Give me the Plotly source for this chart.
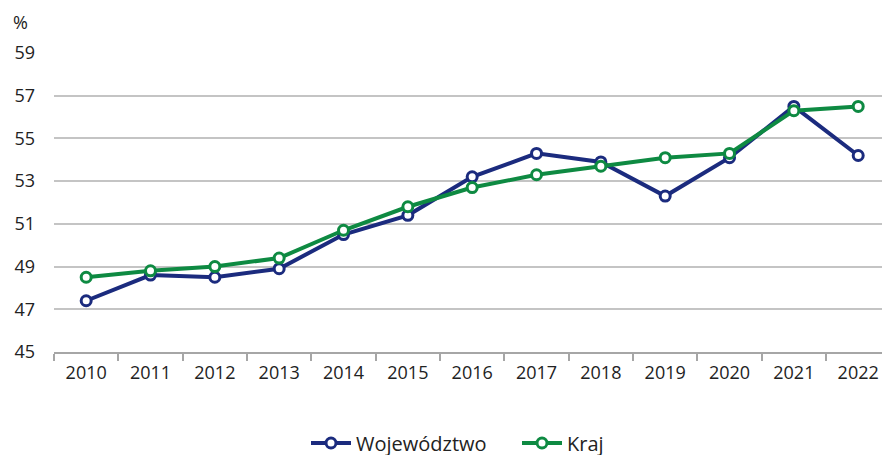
import plotly.graph_objects as go

years = ["2010", "2011", "2012", "2013", "2014", "2015", "2016",
         "2017", "2018", "2019", "2020", "2021", "2022"]
wojewodztwo = [47.4, 48.6, 48.5, 48.9, 50.5, 51.4, 53.2, 54.3, 53.9, 52.3, 54.1, 56.5, 54.2]
kraj = [48.5, 48.8, 49.0, 49.4, 50.7, 51.8, 52.7, 53.3, 53.7, 54.1, 54.3, 56.3, 56.5]
y_ticks = [45, 47, 49, 51, 53, 55, 57, 59]

BLUE = "#1b2b7e"
GREEN = "#0e8a42"
TICK_FONT = dict(family="Open Sans", size=18, color="#222222")
LEG_FONT = dict(family="Open Sans", size=20, color="#222222")

fig = go.Figure()
for name, vals, col, leg in [("Województwo", wojewodztwo, BLUE, "legend"),
                             ("Kraj", kraj, GREEN, "legend2")]:
    fig.add_trace(go.Scatter(
        x=years, y=vals, name=name, mode="lines+markers", legend=leg,
        line=dict(color=col, width=4),
        marker=dict(symbol="circle", size=10, color="white",
                    line=dict(color=col, width=3)),
    ))

leg_common = dict(orientation="h", xref="container", yref="paper",
                  y=(352 - 443) / 299, yanchor="middle", xanchor="left",
                  font=LEG_FONT, itemwidth=40, bgcolor="rgba(0,0,0,0)")

fig.update_layout(
    width=882, height=455,
    margin=dict(l=54, r=0, t=53, b=103, autoexpand=False),
    paper_bgcolor="white", plot_bgcolor="white",
    showlegend=True,
    legend=dict(x=306 / 882, **leg_common),
    legend2=dict(x=517 / 882, **leg_common),
    annotations=[dict(text="%", xref="paper", yref="paper", x=-0.041, y=(352 - 22) / 299,
                      xanchor="center", yanchor="middle", showarrow=False,
                      font=dict(family="Open Sans", size=18, color="#222222"))],
)
fig.update_xaxes(
    type="category", range=[-0.5, 12.37], automargin=False,
    showgrid=False, showline=True, linecolor="#a6a6a6", linewidth=1.5,
    ticks="outside", tickson="boundaries", ticklen=7, tickcolor="#a6a6a6", tickwidth=1.5,
    tickfont=TICK_FONT, ticklabelstandoff=4,
)
fig.update_yaxes(
    range=[45, 59], tickvals=y_ticks, ticktext=[str(v) for v in y_ticks],
    automargin=False,
    showgrid=True, gridcolor="#c4c4c4", gridwidth=1.5,
    zeroline=False, showline=False, ticks="",
    tickfont=TICK_FONT, ticklabelstandoff=18,
)

fig.write_html("out.html", config={"displayModeBar": False},
               post_script="document.body.style.margin='0px';")
